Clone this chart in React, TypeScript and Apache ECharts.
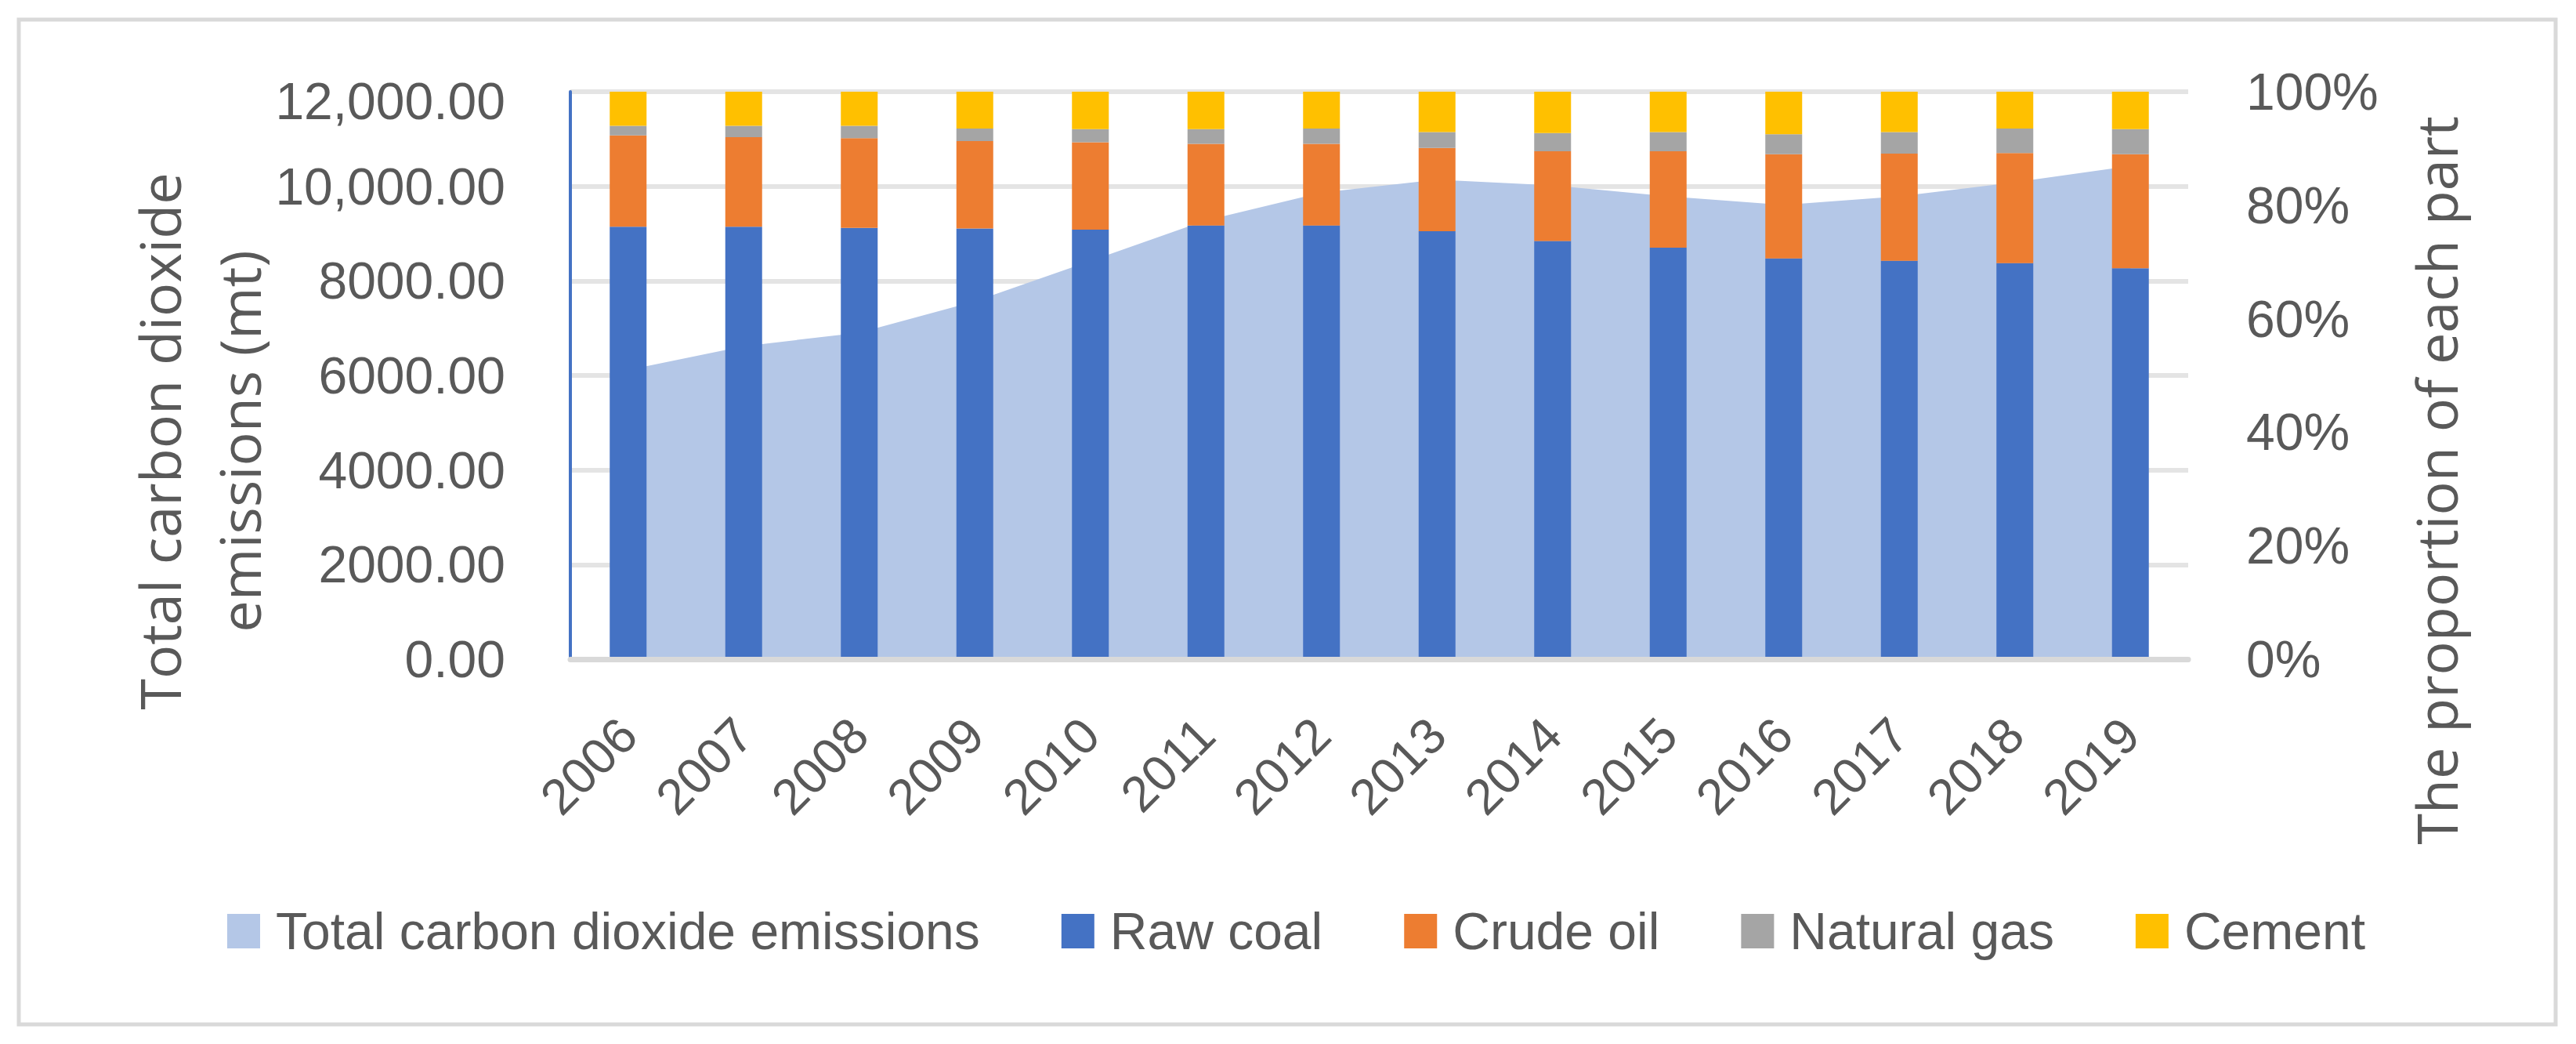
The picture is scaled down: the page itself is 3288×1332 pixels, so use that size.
import React, { useEffect, useRef } from "react";
import * as echarts from "echarts";

const years = ["2006", "2007", "2008", "2009", "2010", "2011", "2012", "2013", "2014", "2015", "2016", "2017", "2018", "2019"];
const totalEmissions = [6114, 6619, 6904, 7565, 8420, 9279, 9866, 10141, 10020, 9788, 9605, 9788, 10085, 10431];
const rawCoal = [76.2, 76.2, 76.0, 75.9, 75.7, 76.4, 76.4, 75.4, 73.7, 72.5, 70.6, 70.2, 69.8, 68.9];
const crudeOil = [16.1, 15.8, 15.8, 15.4, 15.4, 14.4, 14.4, 14.7, 15.8, 17.0, 18.4, 18.9, 19.4, 20.1];
const naturalGas = [1.7, 2.0, 2.2, 2.2, 2.3, 2.6, 2.7, 2.8, 3.2, 3.4, 3.5, 3.8, 4.3, 4.4];
const cement = [6.0, 6.0, 6.0, 6.5, 6.6, 6.6, 6.5, 7.1, 7.3, 7.1, 7.5, 7.1, 6.5, 6.6];
const leftTickValues = [0, 2000, 4000, 6000, 8000, 10000, 12000];
const leftTickLabels = ["0.00", "2000.00", "4000.00", "6000.00", "8000.00", "10,000.00", "12,000.00"];
const rightTickValues = [0, 20, 40, 60, 80, 100];
const rightTickLabels = ["0%", "20%", "40%", "60%", "80%", "100%"];
const seriesNames = ["Total carbon dioxide emissions", "Raw coal", "Crude oil", "Natural gas", "Cement"];
const seriesColors = ["#b4c7e7", "#4472c4", "#ed7d31", "#a5a5a5", "#ffc000"];
const leftTitleLines = ["Total carbon dioxide", "emissions (mt)"];
const rightTitle = "The proportion of each part";

const TICK_FONT = "Liberation Sans";
const TITLE_FONT = "Open Sans";
const TEXT_COLOR = "#595959";

function titleText(text: string, x: number, y: number) {
  return {
    type: "text",
    x,
    y,
    rotation: Math.PI / 2,
    silent: true,
    style: {
      text,
      fill: TEXT_COLOR,
      fontSize: 72,
      fontFamily: TITLE_FONT,
      align: "center",
      verticalAlign: "middle",
      textAlign: "center",
      textVerticalAlign: "middle",
    },
  };
}

export default function App() {
  const ref = useRef<HTMLDivElement>(null);

  useEffect(() => {
    if (!ref.current) return;
    const chart = echarts.init(ref.current, undefined, { renderer: "svg" });
    const barData = [rawCoal, crudeOil, naturalGas, cement];
    const topLeftValue = leftTickValues[leftTickValues.length - 1];

    const option: any = {
      animation: false,
      backgroundColor: "#ffffff",
      grid: { left: 728, right: 495, top: 117, bottom: 491, containLabel: false },
      legend: {
        left: 285,
        top: 1150,
        icon: "rect",
        itemWidth: 42,
        itemHeight: 44,
        itemGap: 104,
        textStyle: { fontFamily: TICK_FONT, fontSize: 66, color: TEXT_COLOR, padding: [0, 0, 0, 15] },
        data: seriesNames.map((n, i) => ({ name: n, itemStyle: { color: seriesColors[i] } })),
      },
      xAxis: {
        type: "category",
        data: years,
        z: 3,
        axisLine: { show: true, lineStyle: { color: "#d9d9d9", width: 7 } },
        axisTick: { show: false },
        axisLabel: {
          rotate: 45,
          margin: 86,
          fontFamily: TICK_FONT,
          fontSize: 64,
          color: TEXT_COLOR,
        },
      },
      yAxis: [
        {
          type: "value",
          min: 0,
          max: 12000,
          interval: 2000,
          position: "left",
          axisLine: { show: true, lineStyle: { color: "#4472c4", width: 4 } },
          axisTick: { show: false },
          splitLine: { show: true, lineStyle: { color: "#e4e4e4", width: 6 } },
          axisLabel: {
            margin: 83,
            fontFamily: TICK_FONT,
            fontSize: 66,
            color: TEXT_COLOR,
            formatter: (v: number) => {
              const i = leftTickValues.indexOf(v);
              if (i < 0) return "";
              return v === topLeftValue ? "{top|" + leftTickLabels[i] + "}" : leftTickLabels[i];
            },
            rich: {
              top: {
                fontFamily: TICK_FONT,
                fontSize: 66,
                color: TEXT_COLOR,
                padding: [24, 0, 0, 0],
              },
            },
          },
        },
        {
          type: "value",
          min: 0,
          max: 100,
          interval: 20,
          position: "right",
          axisLine: { show: false },
          axisTick: { show: false },
          splitLine: { show: false },
          axisLabel: {
            margin: 74,
            fontFamily: TICK_FONT,
            fontSize: 66,
            color: TEXT_COLOR,
            formatter: (v: number) => {
              const i = rightTickValues.indexOf(v);
              return i >= 0 ? rightTickLabels[i] : "";
            },
          },
        },
      ],
      series: [
        {
          name: seriesNames[0],
          type: "line",
          yAxisIndex: 0,
          data: totalEmissions,
          symbol: "none",
          z: 1,
          color: seriesColors[0],
          itemStyle: { color: seriesColors[0] },
          lineStyle: { width: 0, color: seriesColors[0] },
          areaStyle: { color: seriesColors[0], opacity: 1 },
        },
        ...barData.map((d, i) => ({
          name: seriesNames[i + 1],
          type: "bar",
          stack: "share",
          yAxisIndex: 1,
          data: d,
          barWidth: 47,
          z: 2,
          itemStyle: { color: seriesColors[i + 1] },
        })),
      ],
      graphic: [
        {
          type: "rect",
          silent: true,
          shape: { x: 24, y: 25, width: 3238, height: 1282 },
          style: { fill: "none", stroke: "#d9d9d9", lineWidth: 5 },
        },
        titleText(leftTitleLines[0], 203, 563),
        titleText(leftTitleLines[1], 305, 563),
        titleText(rightTitle, 3109, 613),
      ],
    };

    chart.setOption(option);
    return () => {
      chart.dispose();
    };
  }, []);

  return (
    <div
      ref={ref}
      style={{ position: "fixed", left: 0, top: 0, width: 3288, height: 1332, background: "#fff" }}
    />
  );
}
